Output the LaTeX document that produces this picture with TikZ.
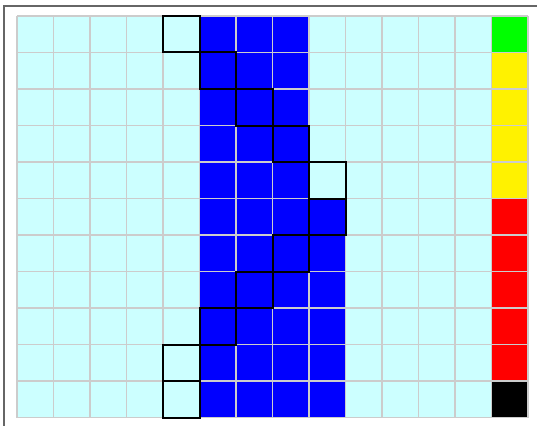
\documentclass[tikz,border=0pt]{standalone}
\usepackage{xcolor}
\usepackage{tikz}
\definecolor{paleCyan}{HTML}{CCFFFF}
\definecolor{gridGray}{HTML}{CCCCCC}
\definecolor{frameGray}{HTML}{666666}

\begin{document}
\begin{tikzpicture}[x=1pt, y=-1pt,
	gridline/.style={draw=gridGray, line width=1.3pt},
	hilite/.style={draw=black, line width=2pt}]
	\useasboundingbox (0,0) rectangle (537,425);
	% outer frame, only top and left inside the page
	\draw[frameGray, line width=1.3pt] (4,430) -- (4,6) -- (540,6);
	\begin{scope}[xshift=17pt, yshift=-16pt, x=36.5pt, y=-36.5pt]
		\fill[paleCyan] (0,0) rectangle (13,11);
		\fill[blue] (5,0) rectangle (8,11);
		\fill[blue] (8,5) rectangle (9,11);
		% status column
		\fill[green]  (13,0)  rectangle (14,1);
		\fill[yellow] (13,1)  rectangle (14,5);
		\fill[red]    (13,5)  rectangle (14,10);
		\fill[black]  (13,10) rectangle (14,11);
		\foreach \c in {0,...,14}
			\draw[gridline] (\c,0) -- (\c,11);
		\foreach \r in {0,...,11}
			\draw[gridline] (0,\r) -- (14,\r);
		% marked cells
		\foreach \c/\r in {4/0, 5/1, 6/2, 7/3, 8/4, 8/5, 7/6, 6/7, 5/8, 4/9, 4/10}
			\draw[hilite] (\c,\r) rectangle ++(1,1);
	\end{scope}
\end{tikzpicture}
\end{document}
